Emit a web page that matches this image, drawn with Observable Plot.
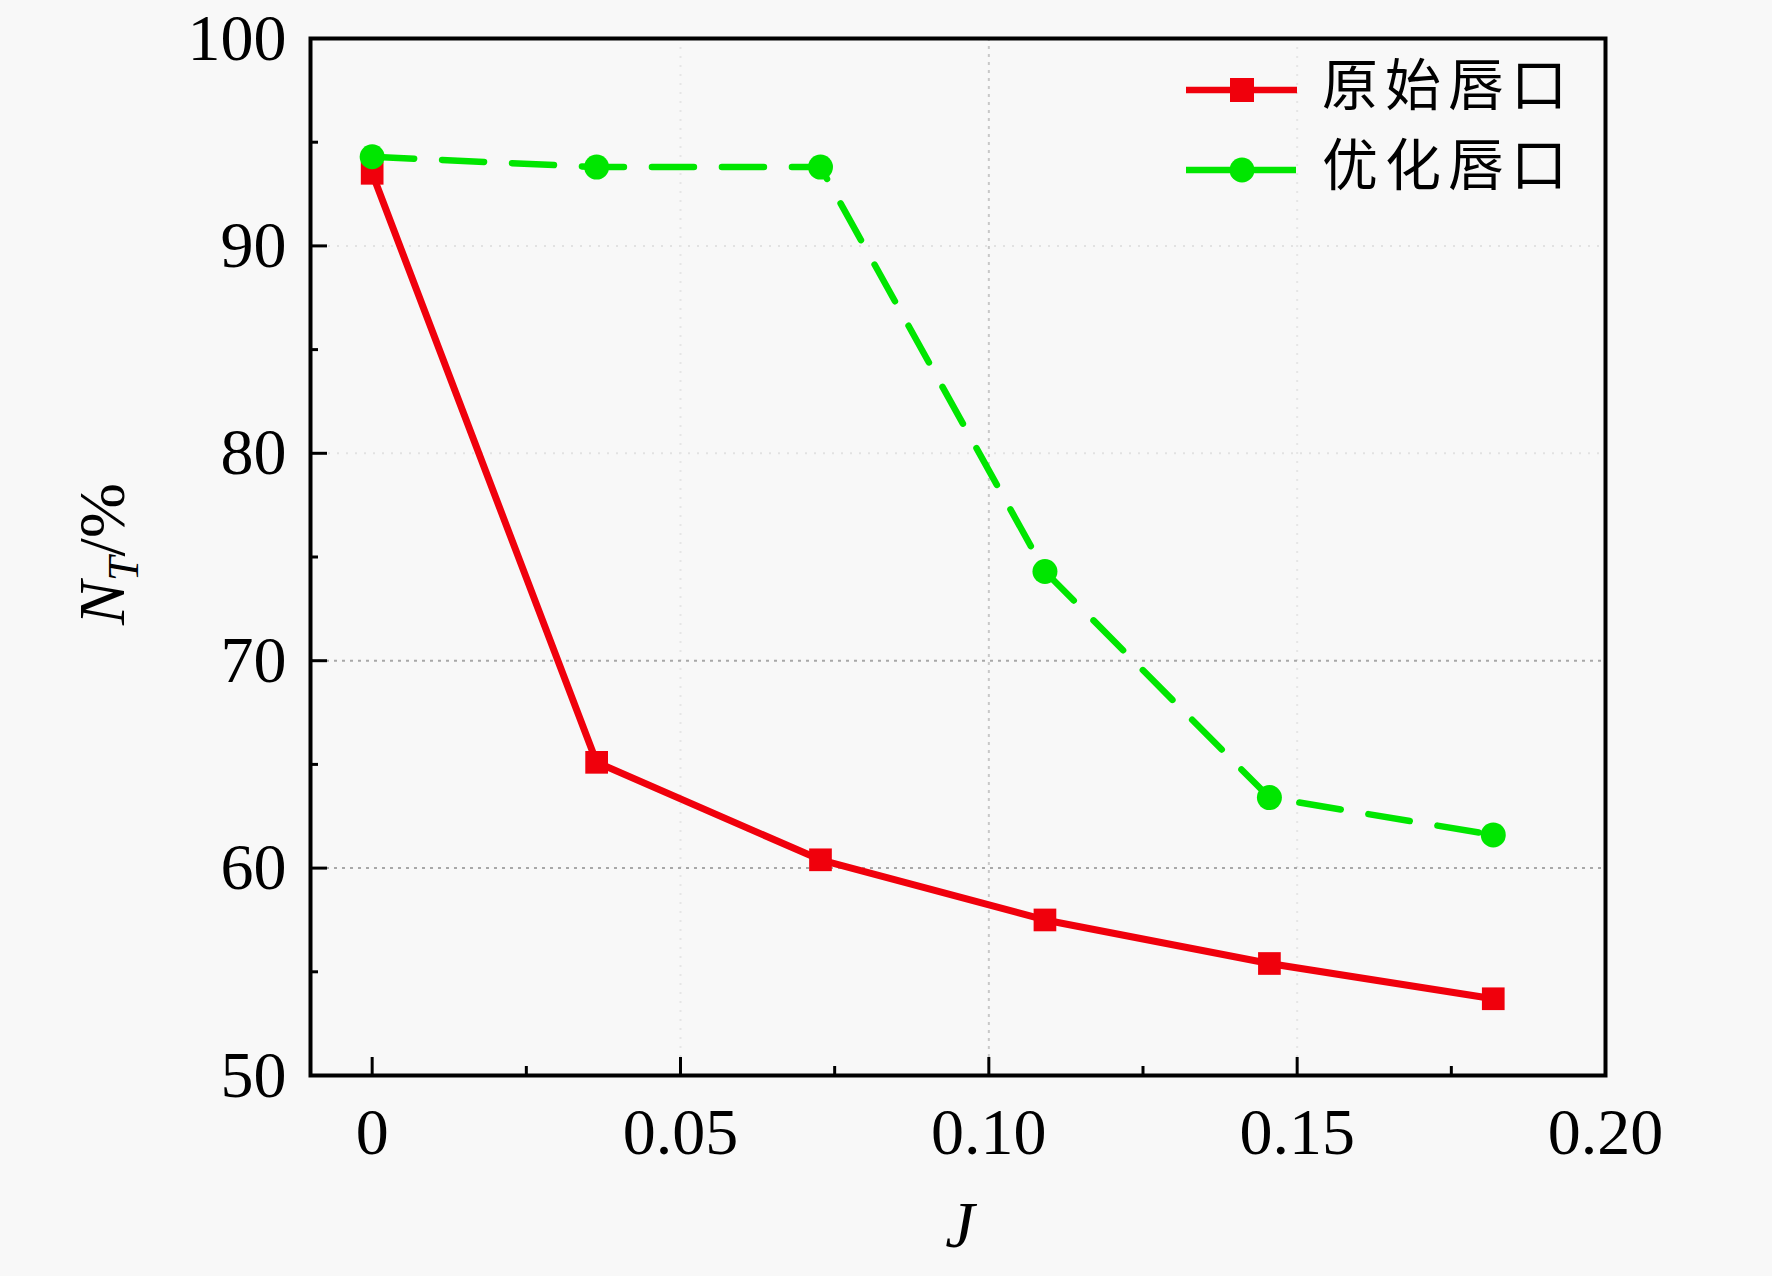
<!DOCTYPE html>
<html><head><meta charset="utf-8">
<script src="https://cdn.jsdelivr.net/npm/d3@7"></script>
<script src="https://cdn.jsdelivr.net/npm/@observablehq/plot@0.6"></script>
<style>
html,body{margin:0;padding:0;background:#f8f8f8;}
#wrap{position:relative;width:1772px;height:1276px;}
#legend{position:absolute;left:0;top:0;}
svg text{font-family:"Liberation Serif","Tinos","Times New Roman",Times,"Nimbus Roman","FreeSerif",serif;}
</style></head>
<body><div id="wrap"></div>
<script>
const J = [0, 0.0364, 0.0727, 0.1091, 0.1455, 0.1818];
const original = [93.5, 65.1, 60.4, 57.5, 55.4, 53.7];
const optimized = [94.3, 93.8, 93.8, 74.3, 63.4, 61.6];
const seriesNames = ["原始唇口", "优化唇口"];
const xMajor = [0, 0.05, 0.10, 0.15, 0.20];
const xMinor = [0.025, 0.075, 0.125, 0.175];
const xTickLabels = ["0", "0.05", "0.10", "0.15", "0.20"];
const yMajor = [50, 60, 70, 80, 90, 100];
const yMinor = [55, 65, 75, 85, 95];
const gridStrongY = [60, 70];
const gridFaintY = [80, 90];
const gridStrongX = [0.10];
const gridFaintX = [0.05, 0.15];

const redData = J.map((j, i) => ({J: j, v: original[i]}));
const greenData = J.map((j, i) => ({J: j, v: optimized[i]}));
const RED = "#f0000c", GREEN = "#00e600";
const FONT = '"Liberation Serif", "Tinos", "Times New Roman", Times, "Nimbus Roman", FreeSerif, serif';

const plot = Plot.plot({
  width: 1772, height: 1276,
  marginLeft: 310, marginRight: 167, marginTop: 38, marginBottom: 201,
  style: {background: "#f8f8f8", fontFamily: FONT, fontSize: "64px", color: "#000"},
  x: {domain: [-0.01, 0.2]},
  y: {domain: [50, 100]},
  marks: [
    Plot.ruleY(gridFaintY, {stroke: "#e2e2e2", strokeWidth: 2, strokeDasharray: "2,7"}),
    Plot.ruleX(gridFaintX, {stroke: "#e6e6e6", strokeWidth: 2, strokeDasharray: "2,7"}),
    Plot.ruleY(gridStrongY, {stroke: "#a8a8a8", strokeWidth: 2, strokeDasharray: "3,5"}),
    Plot.ruleX(gridStrongX, {stroke: "#c8c8c8", strokeWidth: 2, strokeDasharray: "3,5"}),
    Plot.axisX(xMajor, {tickSize: 18, dy: -18, fill: "none", label: null, strokeWidth: 3}),
    Plot.axisX(xMinor, {tickSize: 9, dy: -9, fill: "none", label: null, strokeWidth: 3}),
    Plot.axisY(yMajor, {tickSize: 17, dx: 17, fill: "none", label: null, strokeWidth: 3}),
    Plot.axisY(yMinor, {tickSize: 8, dx: 8, fill: "none", label: null, strokeWidth: 3}),
    Plot.axisX(xMajor, {tickSize: 0, tickPadding: 57, tickFormat: (d, i) => xTickLabels[i], label: null, fontSize: 66, lineAnchor: "middle", fontFamily: FONT}),
    Plot.axisY(yMajor, {tickSize: 0, tickPadding: 24, label: null, fontSize: 66, fontFamily: FONT}),
    Plot.frame({stroke: "#000", strokeWidth: 4}),
    Plot.line(redData, {x: "J", y: "v", stroke: RED, strokeWidth: 7}),
    Plot.dot(redData, {x: "J", y: "v", symbol: "square", r: 12.8, fill: RED, stroke: null}),
    Plot.line(greenData, {x: "J", y: "v", stroke: GREEN, strokeWidth: 6.5, strokeDasharray: "42,28"}),
    Plot.dot(greenData, {x: "J", y: "v", symbol: "circle", r: 12.5, fill: GREEN, stroke: null})
  ]
});
const wrap = document.getElementById("wrap");
wrap.appendChild(plot);

const ov = d3.select(wrap).append("svg").attr("id", "legend")
  .attr("width", 1772).attr("height", 1276).style("pointer-events", "none");

ov.append("text").attr("x", 960).attr("y", 1232).attr("text-anchor", "middle")
  .attr("dominant-baseline", "middle").style("font-family", FONT).style("font-size", "66px")
  .style("font-style", "italic").text("J");

const yl = ov.append("text").attr("transform", "translate(124,554) rotate(-90)")
  .attr("text-anchor", "middle").style("font-family", FONT).style("font-size", "66px");
yl.append("tspan").style("font-style", "italic").text("N");
yl.append("tspan").style("font-style", "italic").style("font-size", "44px").attr("dy", 14).text("T");
yl.append("tspan").attr("dy", -14).text("/%");

const legendRows = [
  {name: seriesNames[0], color: RED, dash: null, shape: "square", y: 90},
  {name: seriesNames[1], color: GREEN, dash: "44,22", shape: "circle", y: 170}
];
legendRows.forEach(r => {
  ov.append("line").attr("x1", 1186).attr("x2", 1297).attr("y1", r.y).attr("y2", r.y)
    .attr("stroke", r.color).attr("stroke-width", 6.5).attr("stroke-dasharray", r.dash);
  if (r.shape === "square") {
    ov.append("rect").attr("x", 1230).attr("y", r.y - 12).attr("width", 24).attr("height", 24).attr("fill", r.color);
  } else {
    ov.append("circle").attr("cx", 1242).attr("cy", r.y).attr("r", 12.5).attr("fill", r.color);
  }
  ov.append("text").attr("x", 1322).attr("y", r.y).attr("dominant-baseline", "middle")
    .style("font-family", "'Noto Sans CJK SC', sans-serif").style("font-size", "56px")
    .style("letter-spacing", "7px").style("font-weight", 400).text(r.name);
});
</script></body></html>
